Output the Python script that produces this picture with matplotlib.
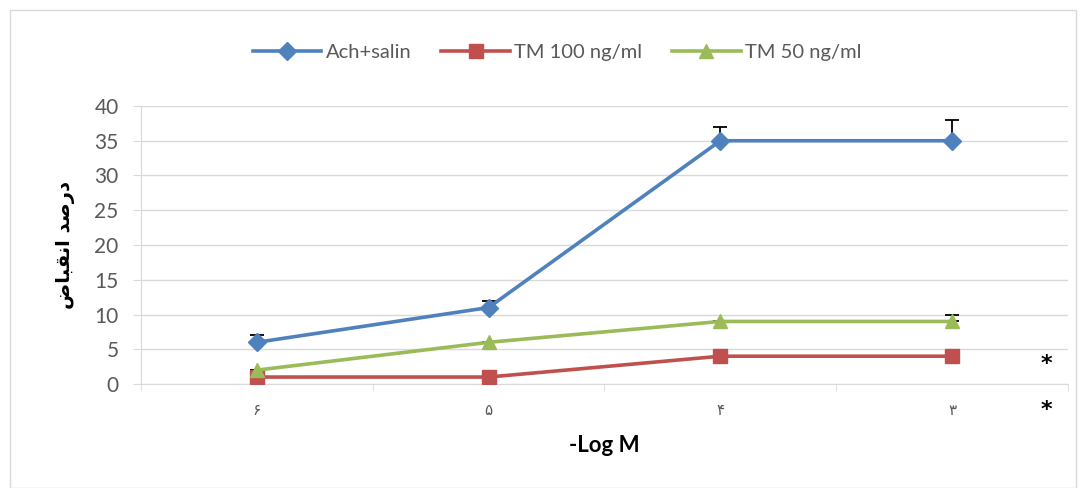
import matplotlib
matplotlib.use("Agg")
import matplotlib.pyplot as plt
from matplotlib.patches import Rectangle

plt.rcParams['font.family'] = ['Lato', 'DejaVu Sans']

categories = ['\u06F6', '\u06F5', '\u06F4', '\u06F3']
series_names = ['Ach+salin', 'TM 100 ng/ml', 'TM 50 ng/ml']
ach = [6, 11, 35, 35]
ach_err = [1, 1, 2, 3]
tm100 = [1, 1, 4, 4]
tm100_err = [0, 0, 0, 0]
tm50 = [2, 6, 9, 9]
tm50_err = [0, 0, 0, 1]
yticks = [0, 5, 10, 15, 20, 25, 30, 35, 40]
xlabel = '-Log M'
# "درصد انقباض" pre-shaped (presentation forms, visual order)
ylabel = '\uFEBD\uFE8E\uFE92\uFED8\uFEE7\uFE8D \uFEAA\uFEBB\uFEAD\uFEA9'

colors = ['#4F81BD', '#C0504D', '#9BBB59']
markers = ['D', 's', '^']
msizes = [9, 10, 10]

fig = plt.figure(figsize=(10.86, 4.88), dpi=100)
fig.patches.append(Rectangle((0.009, 0.0), 0.982, 0.98, transform=fig.transFigure,
                             fill=False, edgecolor='#D9D9D9', linewidth=1))
ax = fig.add_axes([0.1298, 0.2131, 0.8536, 0.5697])

x = list(range(len(categories)))
data = [ach, tm100, tm50]
errs = [ach_err, tm100_err, tm50_err]
handles = []
for vals, err, c, m, ms, name in zip(data, errs, colors, markers, msizes, series_names):
    ax.errorbar(x, vals, yerr=[[0]*len(err), err], fmt='none', ecolor='black',
                elinewidth=1.3, capsize=5, capthick=1.3, zorder=2)
    ln, = ax.plot(x, vals, color=c, marker=m, markersize=ms, linewidth=2.6,
                  label=name, zorder=3)
    handles.append(ln)

ax.set_xlim(-0.5, len(categories) - 0.5)
ax.set_ylim(0, 40)
ax.set_yticks(yticks)
ax.set_yticklabels([str(v) for v in yticks], fontsize=15, color='#595959')
ax.yaxis.grid(True, color='#D9D9D9', linewidth=1)
ax.set_axisbelow(True)
ax.tick_params(axis='y', length=6, color='#D9D9D9', pad=10)

ax.set_xticks(x)
ax.set_xticklabels(categories, fontsize=11, color='#595959', family=['DejaVu Sans'])
ax.tick_params(axis='x', length=0, pad=14)
ax.set_xticks([i - 0.5 for i in range(len(categories) + 1)], minor=True)
ax.tick_params(axis='x', which='minor', length=5, color='#D9D9D9')

for s in ['top', 'right']:
    ax.spines[s].set_visible(False)
ax.spines['left'].set_color('#D9D9D9')
ax.spines['bottom'].set_color('#D9D9D9')

ax.set_xlabel(xlabel, fontsize=16, fontweight='bold', labelpad=12)
ax.set_ylabel(ylabel, fontsize=14, fontweight='bold', family=['DejaVu Sans'], labelpad=14)

fig.legend(handles=handles, loc='center', bbox_to_anchor=(0.513, 0.892), ncol=3,
           frameon=False, fontsize=14.5, handlelength=3.4, columnspacing=1.5,
           handletextpad=0.2, labelcolor='#595959')

fig.text(1046/1086, 1 - 364/488, '*', fontsize=16, ha='center', va='center',
         family=['DejaVu Sans'], fontweight='bold')
fig.text(1046/1086, 1 - 410/488, '*', fontsize=16, ha='center', va='center',
         family=['DejaVu Sans'], fontweight='bold')

fig.savefig('out.png', dpi=100)
